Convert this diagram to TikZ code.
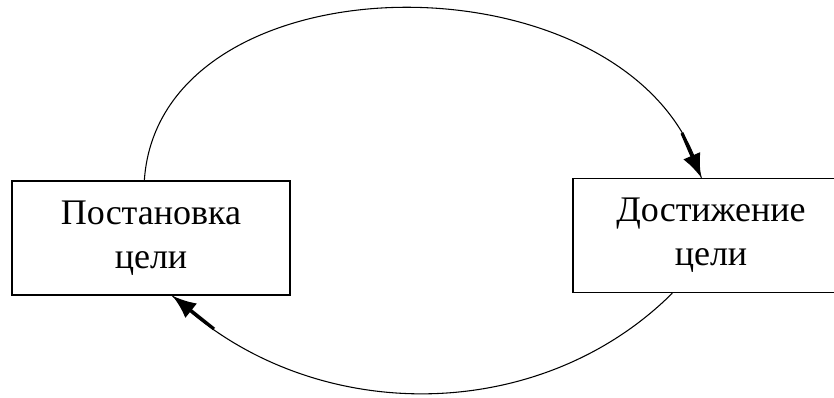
\documentclass[tikz,border=0pt]{standalone}
\usepackage{fontspec}
\setmainfont{Liberation Serif}
\usetikzlibrary{arrows.meta,calc,positioning}

\begin{document}
\begin{tikzpicture}[x=0.75pt,y=-0.75pt]
	\tikzset{
		goalbox/.style={draw,line width=1pt,minimum width=208.5pt,minimum height=85.5pt,inner sep=0pt,align=center,font=\fontsize{27}{33}\selectfont},
		loopline/.style={line width=0.8pt},
		loophead/.style={line width=2.4pt,-{Latex[length=18pt,width=14pt]}}
	}
		\useasboundingbox (0,0) rectangle (834,398);
		\clip (0,0) rectangle (834,398);
		\node[goalbox] (post) at (151,238) {Постановка\\цели};
		\node[goalbox,minimum width=207pt] (dost) at (711,235.5) {Достижение\\цели};
		\coordinate (topstart) at ($(post.north west)+(133,0)$);
		\coordinate (toptip) at ($(dost.north west)+(129,0)$);
		\coordinate (tophead) at (682,133);
		\coordinate (botstart) at ($(dost.south west)+(100,0)$);
		\coordinate (bottip) at ($(post.south west)+(161,0)$);
		\coordinate (bothead) at (214,329);
		\draw[loopline] (topstart) .. controls (160,-50) and (640,-50) .. (toptip);
		\draw[loophead] (tophead) -- (toptip);
		\draw[loopline] (botstart) .. controls (538,427) and (308,427) .. (bottip);
		\draw[loophead] (bothead) -- (bottip);
	\end{tikzpicture}
\end{document}
